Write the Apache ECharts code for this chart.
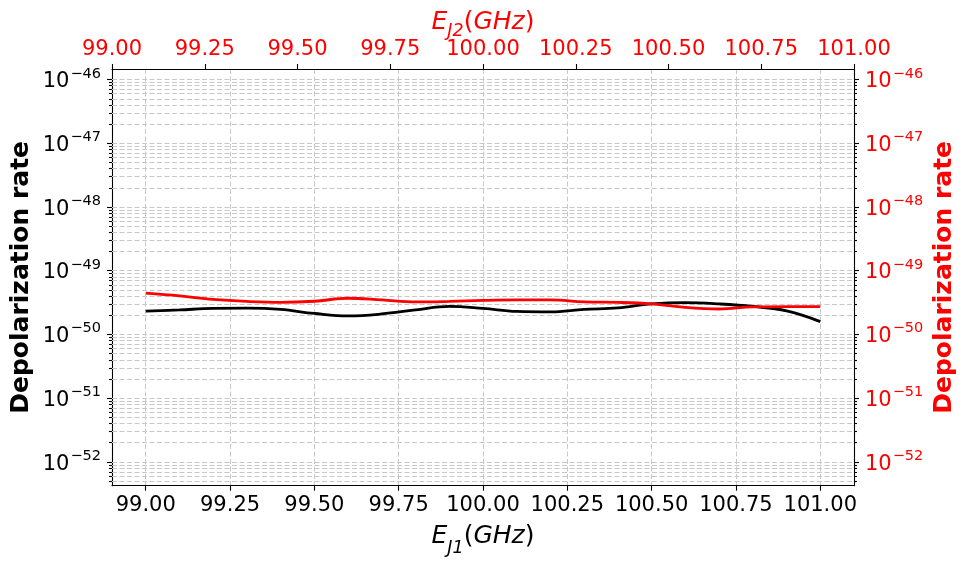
<!DOCTYPE html>
<html><head><meta charset="utf-8">
<script src="https://cdn.jsdelivr.net/npm/echarts@6/dist/echarts.min.js"></script>
<style>html,body{margin:0;padding:0;background:#fff}#c{width:966px;height:565px}</style>
</head><body><div id="c"></div>
<script>
// ---- data ----
const xValues = [99.0, 99.1, 99.2, 99.3, 99.4, 99.5, 99.6, 99.7, 99.8, 99.9, 100.0,
                 100.1, 100.2, 100.3, 100.4, 100.5, 100.6, 100.7, 100.8, 100.9, 101.0];
const blackRate = [2.30e-50, 2.41e-50, 2.54e-50, 2.56e-50, 2.45e-50, 2.12e-50, 1.94e-50, 2.08e-50, 2.41e-50, 2.73e-50, 2.54e-50,
                   2.28e-50, 2.24e-50, 2.45e-50, 2.59e-50, 2.99e-50, 3.13e-50, 2.99e-50, 2.73e-50, 2.32e-50, 1.58e-50];
const redRate = [4.40e-50, 3.99e-50, 3.52e-50, 3.27e-50, 3.16e-50, 3.29e-50, 3.67e-50, 3.45e-50, 3.21e-50, 3.27e-50, 3.39e-50,
                 3.45e-50, 3.45e-50, 3.21e-50, 3.16e-50, 2.99e-50, 2.63e-50, 2.49e-50, 2.68e-50, 2.71e-50, 2.71e-50];
const bottomTicks = [99.00, 99.25, 99.50, 99.75, 100.00, 100.25, 100.50, 100.75, 101.00];
const yMajorTicks = [1e-52, 1e-51, 1e-50, 1e-49, 1e-48, 1e-47, 1e-46];
const yMinorMantissas = [2, 3, 4, 5, 6, 7, 8, 9];
const yMinorDecades = [-53, -52, -51, -50, -49, -48, -47, -46];

// ---- axis ranges ----
const X_MIN = 98.9, X_MAX = 101.1;
const Y_MIN = Math.pow(10, -52.377), Y_MAX = Math.pow(10, -45.838);

const gridVals = [];
yMajorTicks.forEach(v => gridVals.push([X_MIN, v, 1]));
yMinorDecades.forEach(d => yMinorMantissas.forEach(m => {
  const v = m * Math.pow(10, d);
  if (v > Y_MIN && v < Y_MAX) gridVals.push([X_MIN, v, 0]);
}));

const FONT = 'DejaVu Sans';
const GRID_COLOR = '#c8c8c8';
const DASH = [5, 2.5];

function expLabel(v) {
  if (!(v > 0) || !isFinite(v)) return '';
  const e = Math.log10(v);
  if (!isFinite(e)) return '';
  const r = Math.round(e);
  if (Math.abs(e - r) > 1e-3) return '';
  return '{b|10}{s|\u2212' + Math.abs(r) + '}';
}
function richFor(color) {
  return {
    b: {fontSize: 21, fontFamily: FONT, color: color, lineHeight: 26, verticalAlign: 'bottom'},
    s: {fontSize: 14.5, fontFamily: FONT, color: color, lineHeight: 26, verticalAlign: 'top', padding: [0, 0, 0, 1]}
  };
}
function nameRich(color, drop) {
  return {
    i: {fontSize: 25, fontFamily: FONT, fontStyle: 'italic', color: color, lineHeight: 30},
    r: {fontSize: 25, fontFamily: FONT, color: color, lineHeight: 30},
    sub: {fontSize: 17.5, fontFamily: FONT, fontStyle: 'italic', color: color, lineHeight: 30, verticalAlign: 'bottom', padding: [0, 0, -drop, 0]}
  };
}

const chart = echarts.init(document.getElementById('c'), null, {renderer: 'canvas'});
chart.setOption({
  animation: false,
  backgroundColor: '#fff',
  grid: {left: 112, top: 69, width: 742, height: 416.7, containLabel: false, outerBoundsMode: 'none'},
  xAxis: [
    {
      type: 'value', position: 'bottom', min: X_MIN, max: X_MAX,
      axisLine: {show: true, onZero: false, lineStyle: {color: '#000', width: 1.1}},
      axisTick: {show: true, length: 5, lineStyle: {color: '#000', width: 1.1}, customValues: bottomTicks},
      axisLabel: {show: true, customValues: bottomTicks, margin: 9, color: '#000', fontSize: 21, fontFamily: FONT,
                  formatter: v => v.toFixed(2)},
      splitLine: {show: true, lineStyle: {color: GRID_COLOR, width: 1, type: DASH}},
      name: '{i|E}{sub|J1}{r|(}{i|GHz}{r|)}', nameLocation: 'middle', nameGap: 36, nameMoveOverlap: false,
      nameTextStyle: {rich: nameRich('#000', 6)}
    },
    {
      type: 'value', position: 'top', min: 99, max: 101, interval: 0.25,
      axisLine: {show: true, onZero: false, lineStyle: {color: '#000', width: 1.1}},
      axisTick: {show: true, length: 5, lineStyle: {color: '#000', width: 1.1}},
      axisLabel: {show: true, margin: 9, color: '#ff0000', fontSize: 21, fontFamily: FONT,
                  formatter: v => v.toFixed(2)},
      splitLine: {show: false},
      name: '{i|E}{sub|J2}{r|(}{i|GHz}{r|)}', nameLocation: 'middle', nameGap: 32, nameMoveOverlap: false,
      nameTextStyle: {rich: nameRich('#ff0000', 3)}
    }
  ],
  yAxis: [
    {
      type: 'log', logBase: 10, position: 'left', min: Y_MIN, max: Y_MAX,
      axisLine: {show: true, onZero: false, lineStyle: {color: '#000', width: 1.1}},
      axisTick: {show: false},
      axisLabel: {show: true, margin: 11, formatter: expLabel, rich: richFor('#000')},
      splitLine: {show: false},
      name: 'Depolarization rate', nameLocation: 'middle', nameGap: 78, nameRotate: 90, nameMoveOverlap: false,
      nameTextStyle: {fontSize: 25, fontWeight: 'bold', fontFamily: FONT, color: '#000'}
    },
    {
      type: 'log', logBase: 10, position: 'right', min: Y_MIN, max: Y_MAX,
      axisLine: {show: true, onZero: false, lineStyle: {color: '#000', width: 1.1}},
      axisTick: {show: false},
      axisLabel: {show: true, margin: 11, formatter: expLabel, rich: richFor('#ff0000')},
      splitLine: {show: false},
      name: 'Depolarization rate', nameLocation: 'middle', nameGap: 78, nameRotate: 90, nameMoveOverlap: false,
      nameTextStyle: {fontSize: 25, fontWeight: 'bold', fontFamily: FONT, color: '#ff0000'}
    }
  ],
  series: [
    {
      type: 'custom', xAxisIndex: 0, yAxisIndex: 0, silent: true, clip: false, z: 1,
      encode: {x: 0, y: 1},
      data: gridVals,
      renderItem: function (params, api) {
        const v = api.value(1);
        const major = api.value(2) === 1;
        const p = api.coord([X_MIN, v]);
        const cs = params.coordSys;
        const y = Math.round(p[1]) + 0.5;
        const x0 = cs.x, x1 = cs.x + cs.width;
        const tl = major ? 5 : 3;
        return {type: 'group', children: [
          {type: 'line', shape: {x1: x0, y1: y, x2: x1, y2: y}, style: {stroke: GRID_COLOR, lineWidth: 1, lineDash: DASH}},
          {type: 'line', shape: {x1: x0 - tl, y1: y, x2: x0, y2: y}, style: {stroke: '#000', lineWidth: 1.1}},
          {type: 'line', shape: {x1: x1, y1: y, x2: x1 + tl, y2: y}, style: {stroke: '#000', lineWidth: 1.1}}
        ]};
      }
    },
    {
      type: 'line', name: 'black', xAxisIndex: 0, yAxisIndex: 0, z: 3,
      data: xValues.map((x, i) => [x, blackRate[i]]),
      smooth: 0.4, showSymbol: false, symbol: 'none',
      lineStyle: {color: '#000', width: 2.8}
    },
    {
      type: 'line', name: 'red', xAxisIndex: 0, yAxisIndex: 1, z: 4,
      data: xValues.map((x, i) => [x, redRate[i]]),
      smooth: 0.4, showSymbol: false, symbol: 'none',
      lineStyle: {color: '#ff0000', width: 2.8}
    }
  ]
});
</script>
</body></html>
